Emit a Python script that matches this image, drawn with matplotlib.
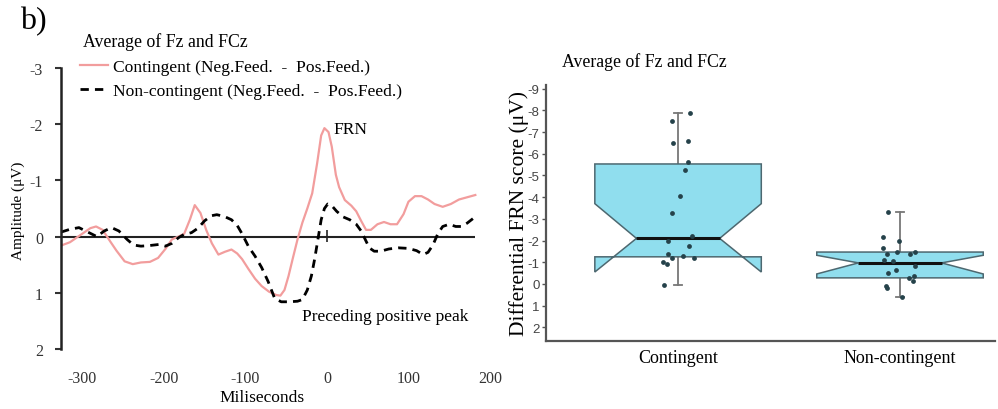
import matplotlib
matplotlib.use("Agg")
import matplotlib.pyplot as plt
import numpy as np

plt.rcParams['font.family'] = ['Liberation Serif', 'DejaVu Serif']
plt.rcParams['axes.unicode_minus'] = False

# ---- left panel: difference waves ----
t_cont = [-326, -315, -300, -290, -283, -275, -265, -258, -248, -238, -228, -217,
          -207, -198, -190, -182, -175, -168, -162, -155, -148, -141, -133, -125,
          -117, -110, -104, -96, -88, -80, -71, -62, -57, -52, -47, -42, -36, -30,
          -24, -18, -12, -7, -3, 2, 6, 11, 15, 22, 30, 36, 42, 48, 54, 62, 70, 78,
          86, 94, 100, 108, 116, 124, 132, 142, 152, 162, 172, 182]
amp_cont = [0.16, 0.10, -0.05, -0.15, -0.18, -0.12, 0.10, 0.25, 0.44, 0.49, 0.46, 0.45,
            0.38, 0.22, 0.05, 0.0, -0.05, -0.30, -0.56, -0.42, -0.12, 0.12, 0.32, 0.27,
            0.23, 0.30, 0.40, 0.58, 0.75, 0.88, 0.98, 1.04, 1.05, 0.95, 0.70, 0.40, 0.05, -0.25,
            -0.50, -0.77, -1.30, -1.80, -1.93, -1.86, -1.60, -1.10, -0.88, -0.65, -0.55, -0.45, -0.28, -0.12, -0.12, -0.22, -0.26, -0.22,
            -0.22, -0.40, -0.62, -0.72, -0.72, -0.66, -0.58, -0.53, -0.58, -0.66, -0.70, -0.74]

t_noncont = [-326, -315, -304, -293, -282, -273, -264, -255, -245, -237, -228, -218,
             -206, -198, -190, -182, -175, -166, -158, -150, -142, -135, -126, -117,
             -110, -104, -96, -88, -80, -72, -64, -56, -46, -36, -30, -24, -19, -15,
             -11, -7, -3, 1, 6, 12, 20, 28, 36, 42, 47, 52, 58, 66, 76, 88, 100, 110,
             118, 124, 130, 136, 142, 150, 158, 165, 172, 180]
amp_noncont = [-0.08, -0.13, -0.16, -0.08, 0.0, -0.10, -0.16, -0.10, 0.05, 0.15, 0.17, 0.16,
               0.14, 0.17, 0.12, 0.02, -0.04, -0.07, -0.15, -0.28, -0.37, -0.39, -0.36, -0.30,
               -0.20, -0.05, 0.18, 0.35, 0.55, 0.80, 1.10, 1.16, 1.16, 1.15, 1.12, 0.95, 0.70, 0.40,
               0.05, -0.30, -0.50, -0.58, -0.55, -0.45, -0.35, -0.30, -0.22, -0.10, 0.05, 0.20, 0.26, 0.26, 0.22, 0.20, 0.21, 0.25,
               0.32, 0.28, 0.15, -0.05, -0.18, -0.22, -0.18, -0.18, -0.24, -0.33]

x_ticks = [-300, -200, -100, 0, 100, 200]
y_ticks = [-3, -2, -1, 0, 1, 2]

# ---- right panel: differential FRN scores ----
groups = ['Contingent', 'Non-contingent']
cont_scores = [-7.9, -7.5, -6.5, -6.6, -5.6, -5.25, -4.06, -3.27, -2.21, -1.98,
               -1.75, -1.38, -1.2, -1.29, -1.2, -1.02, -0.92, 0.05]
cont_jitter = [0.054, -0.027, -0.023, 0.045, 0.045, 0.032, 0.009, -0.027, 0.063, -0.045,
               0.05, -0.045, -0.027, 0.023, 0.072, -0.068, -0.05, -0.063]
noncont_scores = [-3.3, -2.15, -1.98, -1.65, -1.38, -1.47, -1.38, -1.47, -1.12, -1.05,
                  -0.82, -0.65, -0.5, -0.37, -0.27, -0.15, 0.08, 0.18, 0.6]
noncont_jitter = [-0.054, -0.077, -0.005, -0.077, -0.059, -0.014, 0.045, 0.068, -0.072, -0.032,
                  0.068, -0.018, -0.054, 0.063, 0.041, 0.059, -0.063, -0.059, 0.009]
# box summaries as drawn (notched)
box_q1 = [-5.53, -1.47]
box_q3 = [-1.25, -0.28]
box_med = [-2.1, -0.97]
box_cilo = [-3.7, -1.32]
box_cihi = [-0.55, -0.46]
box_whislo = [-7.9, -3.32]
box_whishi = [0.05, 0.6]

pink = '#f29d9d'
W, H = 998, 410
fig = plt.figure(figsize=(W / 100, H / 100), dpi=100)

ax1 = fig.add_axes([61 / W, 60 / H, 429 / W, 281 / H])
ax1.plot(t_cont, amp_cont, color=pink, lw=1.6, label='Contingent (Neg.Feed.  -  Pos.Feed.)')
ax1.plot(t_noncont, amp_noncont, color='black', lw=2, ls=(0, (3, 2.2)),
         label='Non-contingent (Neg.Feed.  -  Pos.Feed.)')
ax1.hlines(0, -326, 181, color='#222222', lw=1.5, zorder=1)
ax1.vlines(0, -0.12, 0.1, color='#222222', lw=1.2)
ax1.set_xlim(-326, 200)
ax1.set_ylim(2, -3)
ax1.set_xticks(x_ticks)
ax1.set_yticks(y_ticks)
ax1.tick_params(axis='x', length=0, pad=15, labelsize=11.5, colors='#333333')
ax1.tick_params(axis='y', length=4, width=1.5, pad=9, labelsize=11.5, colors='#333333')
for s in ['top', 'right', 'bottom']:
    ax1.spines[s].set_visible(False)
ax1.spines['left'].set_linewidth(1.8)
ax1.spines['left'].set_color('#222222')
ax1.text(8, -1.91, 'FRN', fontsize=12.5, va='center', ha='left')
ax1.text(-31, 1.42, 'Preceding positive peak', fontsize=12.5, va='center', ha='left')
ax1.legend(loc='upper left', bbox_to_anchor=(80 / W, 1 - 60 / H), bbox_transform=fig.transFigure,
           frameon=False, fontsize=12.6, handlelength=1.6, handletextpad=0.3,
           labelspacing=0.45, borderpad=0, borderaxespad=0)

fig.text(20 / W, 1 - 22 / H, 'b)', fontsize=23, va='center', ha='left')
fig.text(83 / W, 1 - 42 / H, 'Average of Fz and FCz', fontsize=12.8, va='center', ha='left')
fig.text(18 / W, 1 - 211 / H, 'Amplitude (μV)', fontsize=11, rotation=90, va='center', ha='center')
fig.text(262 / W, 1 - 398 / H, 'Miliseconds', fontsize=12.5, va='center', ha='center')

# right panel
ax2 = fig.add_axes([546 / W, 68 / H, 449 / W, 256 / H])
stats = []
for i in range(2):
    stats.append(dict(med=box_med[i], q1=box_q1[i], q3=box_q3[i], cilo=box_cilo[i],
                      cihi=box_cihi[i], whislo=box_whislo[i], whishi=box_whishi[i], fliers=[]))
ax2.bxp(stats, positions=[0, 1], widths=0.75, shownotches=True, patch_artist=True,
        showfliers=False, capwidths=0.035,
        boxprops=dict(facecolor='#90deee', edgecolor='#4d6870', linewidth=1.1, zorder=2),
        medianprops=dict(color='#111111', linewidth=2.2, zorder=2.5),
        whiskerprops=dict(color='#777777', linewidth=1.3, zorder=1),
        capprops=dict(color='#777777', linewidth=1.3, zorder=1))
ax2.scatter(np.array(cont_jitter) + 0, cont_scores, s=12, color='#25424a', zorder=3, linewidths=0)
ax2.scatter(np.array(noncont_jitter) + 1, noncont_scores, s=12, color='#25424a', zorder=3, linewidths=0)
ax2.set_xlim(-0.595, 1.428)
ax2.set_ylim(2.63, -9.17)
ax2.set_yticks(list(range(-9, 3)))
ax2.set_xticks([0, 1], groups)
ax2.tick_params(axis='x', length=0, pad=6, labelsize=13)
ax2.tick_params(axis='y', length=3, width=1, pad=1.5, colors='#555555')
for lab in ax2.get_yticklabels():
    lab.set_family(['Liberation Sans', 'DejaVu Sans'])
    lab.set_fontsize(9.5)
    lab.set_color('#444444')
for s in ['top', 'right']:
    ax2.spines[s].set_visible(False)
for s in ['left', 'bottom']:
    ax2.spines[s].set_linewidth(1.6)
    ax2.spines[s].set_color('#555555')

fig.text(562 / W, 1 - 62 / H, 'Average of Fz and FCz', fontsize=12.8, va='center', ha='left')
fig.text(519 / W, 1 - 214 / H, 'Differential FRN score (μV)', fontsize=15.5, rotation=90,
         va='center', ha='center')

fig.savefig('out.png', dpi=100, facecolor='white')
